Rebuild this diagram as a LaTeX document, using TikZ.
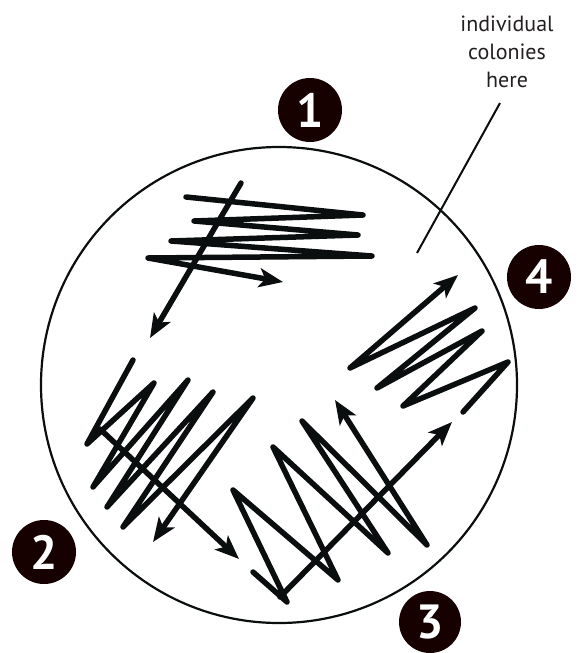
\documentclass[tikz,border=0pt]{standalone}
\usepackage{fontspec}
\setmainfont{PT Sans}
\usetikzlibrary{arrows.meta}
\definecolor{ink}{RGB}{10,14,14}
\definecolor{badgefill}{RGB}{22,0,0}
\definecolor{txt}{RGB}{35,31,32}
\begin{document}
\begin{tikzpicture}[x=1pt,y=-1pt,
  streak/.style={line width=5.5pt, line cap=round, line join=round, draw=ink},
  arr/.style={-{Stealth[length=24pt,width=19pt,inset=6pt]}},
  digit/.style={inner sep=0pt, text=white, font=\bfseries\fontsize{48}{48}\selectfont},
  ]
\useasboundingbox (0,0) rectangle (580,653);
\node[circle, draw=ink, line width=2.2pt, minimum size=476pt, inner sep=0pt] (plate) at (279,385) {};

% badges
\fill[badgefill] (310,110) circle (32);
\node[digit] (n1) at (310,110) {1};
\fill[badgefill] (44,552) circle (32);
\node[digit] (n2) at (44,552) {2};
\fill[badgefill] (430,622) circle (31);
\node[digit] (n3) at (430,622) {3};
\fill[badgefill] (539,277) circle (32);
\node[digit] (n4) at (539,277) {4};

% streak 1
\draw[streak,arr] (186,197)--(363,215)--(194,221)--(358,235)--(171,241)--(372,256)--(148,258)--(283,282);
\draw[streak,arr] (241,183)--(150,338);

% streak 2
\draw[streak,arr] (133,360)--(87,444)--(154,383)--(93,487)--(188,380)--(107,507)--(213,392)--(123,527)--(253,398)--(153,542);
\draw[streak,arr] (100,429)--(239,559);

% streak 3
\draw[streak,arr] (253,572)--(287,602)--(233,490)--(338,580)--(273,447)--(388,553)--(302,421)--(427,545)--(335,400);
\draw[streak,arr] (280,597)--(452,422);

% streak 4
\draw[streak,arr] (463,412)--(508,362)--(403,406)--(482,331)--(377,388)--(475,308)--(350,368)--(458,275);

% label
\node[text=txt, align=center, font=\fontsize{22}{28}\selectfont] (lbl) at (507,52) {individual\\colonies\\here};
\coordinate (ptr) at (417,253);
\draw[ink, line width=2pt] (ptr) -- (500,103);
\end{tikzpicture}
\end{document}
